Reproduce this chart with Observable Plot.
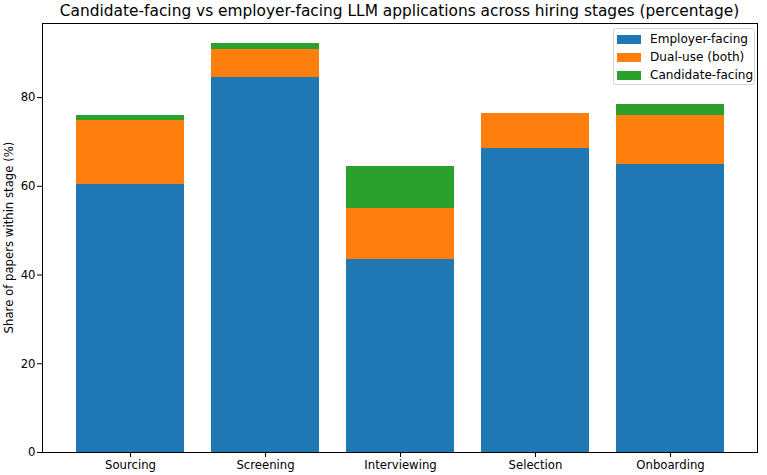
<!DOCTYPE html>
<html>
<head>
<meta charset="utf-8">
<script src="https://cdn.jsdelivr.net/npm/d3@7"></script>
<script src="https://cdn.jsdelivr.net/npm/@observablehq/plot@0.6"></script>
<style>
  html, body { margin: 0; padding: 0; background: #fff; }
  body { font-family: "DejaVu Sans", sans-serif; }
  #wrap { position: relative; width: 767px; height: 475px; }
  #title { height: 18px; line-height: 22px; font-size: 15.4px; color: #000;
           text-align: center; padding-left: 32px; white-space: nowrap; }
  #legend { position: absolute; left: 613px; top: 28px; width: 142px; height: 57px;
            box-sizing: border-box; border: 1px solid #d6d6d6; border-radius: 3px;
            background: rgba(255,255,255,0.8); font-size: 12.1px; color: #000; }
  .row { position: absolute; left: 3px; height: 12px; display: flex; align-items: center; }
  .sw { width: 24px; height: 9px; margin-right: 9px; }
</style>
</head>
<body>
<div id="wrap">
  <div id="title">Candidate-facing vs employer-facing LLM applications across hiring stages (percentage)</div>
  <div id="chart"></div>
  <div id="legend"></div>
</div>
<script>
// Hiring stages along the x axis
const stages = ["Sourcing", "Screening", "Interviewing", "Selection", "Onboarding"];

// Share of papers within each stage (%), per application type
const employerFacing = [60.3, 84.5, 43.6, 68.6, 64.9];
const dualUse = [14.6, 6.3, 11.3, 7.8, 11.0];
const candidateFacing = [1.0, 1.5, 9.5, 0.0, 2.6];

const seriesNames = ["Employer-facing", "Dual-use (both)", "Candidate-facing"];
const seriesColors = ["#1f77b4", "#ff7f0e", "#2ca02c"];
const yTicks = [0, 20, 40, 60, 80];

const seriesValues = [employerFacing, dualUse, candidateFacing];
const rows = [];
seriesNames.forEach((name, si) => {
  stages.forEach((stage, i) => {
    rows.push({stage, series: name, value: seriesValues[si][i]});
  });
});

const chart = Plot.plot({
  width: 767,
  height: 457,
  marginTop: 5,
  marginLeft: 42,
  marginRight: 10,
  marginBottom: 23,
  style: {fontFamily: "DejaVu Sans, sans-serif", fontSize: "11.7px", color: "#000"},
  x: {domain: stages, paddingInner: 0.2, paddingOuter: 0.24, label: null},
  y: {domain: [0, 96.7], ticks: yTicks, label: null},
  color: {domain: seriesNames, range: seriesColors},
  marks: [
    Plot.barY(rows, {
      x: "stage", y: "value", fill: "series", order: seriesNames,
      inset: 0, shapeRendering: "crispEdges"
    }),
    Plot.axisX({tickSize: 5, tickPadding: 3, fontSize: 11.7}),
    Plot.axisY({ticks: yTicks, tickSize: 5, tickPadding: 2, fontSize: 11.7, label: null}),
    Plot.frame({stroke: "#000", strokeWidth: 1})
  ]
});
document.getElementById("chart").appendChild(chart);

// rotated y axis title
const svg = d3.select(chart);
svg.append("text")
  .attr("transform", `translate(9, ${5 + (457 - 5 - 23) / 2}) rotate(-90)`)
  .attr("text-anchor", "middle")
  .attr("dominant-baseline", "middle")
  .attr("font-size", 11.7)
  .attr("fill", "#000")
  .text("Share of papers within stage (%)");

// legend
const legend = document.getElementById("legend");
seriesNames.forEach((name, i) => {
  const row = document.createElement("div");
  row.className = "row";
  row.style.top = (4 + i * 18) + "px";
  const sw = document.createElement("div");
  sw.className = "sw";
  sw.style.background = seriesColors[i];
  const label = document.createElement("span");
  label.textContent = name;
  row.appendChild(sw);
  row.appendChild(label);
  legend.appendChild(row);
});
</script>
</body>
</html>
